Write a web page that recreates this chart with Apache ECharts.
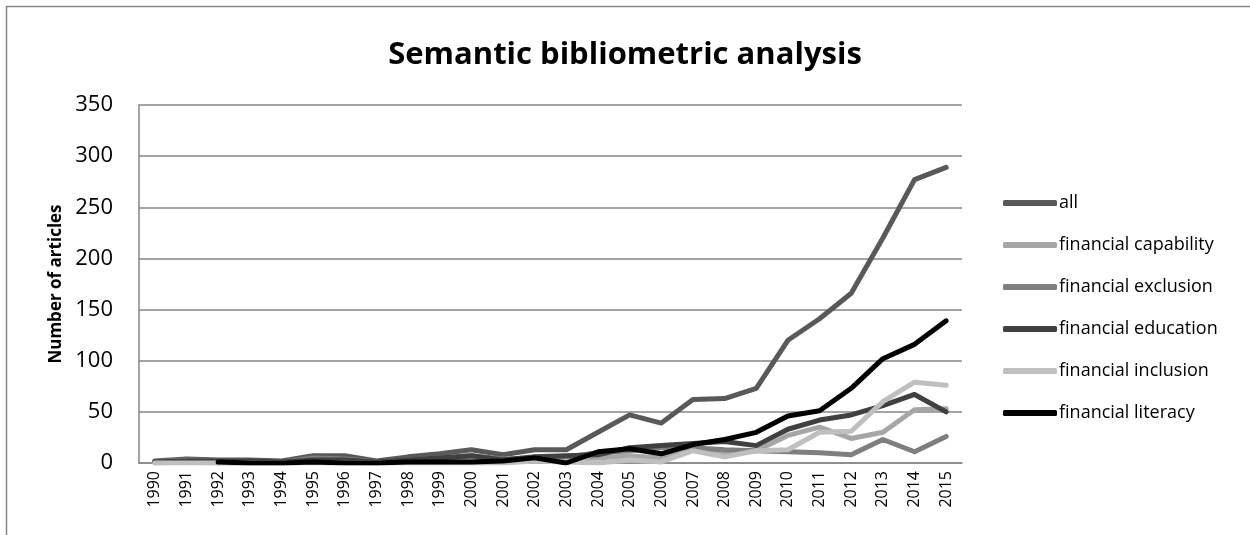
<!DOCTYPE html>
<html>
<head>
<meta charset="utf-8">
<script src="https://cdn.jsdelivr.net/npm/echarts@6/dist/echarts.min.js"></script>
<style>html,body{margin:0;padding:0;background:#fff;}#c{width:1250px;height:535px;}</style>
</head>
<body>
<div id="c"></div>
<script>
const years = ['1990','1991','1992','1993','1994','1995','1996','1997','1998','1999','2000','2001','2002','2003','2004','2005','2006','2007','2008','2009','2010','2011','2012','2013','2014','2015'];
const allArticles = [2,4,3,3,2,7,7,2,6,9,13,8,13,13,30,47,39,62,63,73,120,141,166,220,277,289];
const capability = [0,1,0,0,0,1,1,0,1,2,4,2,3,3,5,7,5,14,9,12,27,35,24,30,52,53];
const exclusion = [1,3,2,2,1,5,4,1,3,5,7,4,5,6,10,12,15,15,13,12,11,10,8,23,11,26];
const education = [1,2,2,2,1,3,3,1,3,5,7,3,6,7,8,15,17,19,21,17,33,42,47,56,67,50];
const inclusion = [0,0,0,0,0,0,0,0,0,0,0,0,2,1,0,3,1,12,6,12,13,30,31,60,79,76];
const literacy = [null,null,1,0,0,1,0,0,1,1,1,2,5,0,11,14,9,18,23,30,46,51,73,102,116,139];
const yTicks = [0,50,100,150,200,250,300,350];

const seriesDefs = [
  ['all', allArticles, '#595959'],
  ['financial capability', capability, '#A6A6A6'],
  ['financial exclusion', exclusion, '#7F7F7F'],
  ['financial education', education, '#404040'],
  ['financial inclusion', inclusion, '#BFBFBF'],
  ['financial literacy', literacy, '#000000']
];

const font = 'Open Sans';
const chart = echarts.init(document.getElementById('c'), null, {renderer:'canvas'});
chart.setOption({
  animation: false,
  title: {
    text: 'Semantic bibliometric analysis',
    left: 'center', top: 35,
    textStyle: {fontFamily: font, fontWeight: 'bold', fontSize: 31, color: '#000'}
  },
  graphic: [{
    type: 'rect', shape: {x: 6.5, y: 6.5, width: 1300, height: 600},
    style: {fill: 'none', stroke: '#868686', lineWidth: 1.5}, silent: true
  }],
  grid: {left: 139, right: 288, top: 105, bottom: 72},
  legend: {
    orient: 'vertical', left: 998, top: 186, itemGap: 18,
    itemWidth: 54, itemHeight: 6, icon: 'roundRect',
    textStyle: {fontFamily: font, fontSize: 18, lineHeight: 24, color: '#000', padding: [0,0,0,-3]},
    data: seriesDefs.map(d => d[0])
  },
  xAxis: {
    type: 'category', data: years, boundaryGap: true,
    axisLine: {lineStyle: {color: '#868686', width: 1.5}},
    axisTick: {show: false},
    axisLabel: {rotate: 90, fontFamily: font, fontSize: 16, color: '#000', margin: 8, interval: 0}
  },
  yAxis: {
    type: 'value', min: yTicks[0], max: yTicks[yTicks.length-1], interval: 50,
    name: 'Number of articles', nameLocation: 'middle', nameGap: 73,
    nameTextStyle: {fontFamily: font, fontWeight: 'bold', fontSize: 17, color: '#000'},
    axisLine: {show: true, lineStyle: {color: '#868686', width: 1.5}},
    axisTick: {show: false},
    splitLine: {lineStyle: {color: '#868686', width: 1.5}},
    axisLabel: {fontFamily: font, fontSize: 22, color: '#000', margin: 26}
  },
  series: seriesDefs.map(d => ({
    name: d[0], type: 'line', data: d[1], symbol: 'none',
    color: d[2],
    lineStyle: {color: d[2], width: 5, cap: 'round', join: 'round'},
    itemStyle: {color: d[2]}
  }))
});
</script>
</body>
</html>
